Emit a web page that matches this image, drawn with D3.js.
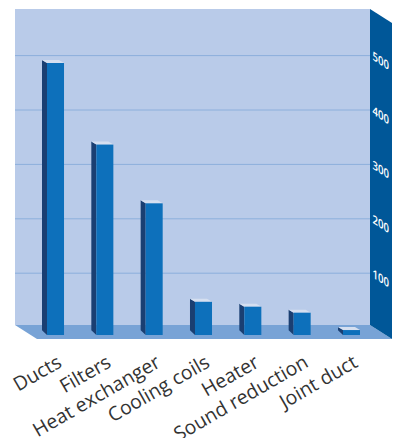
<!DOCTYPE html>
<html>
<head>
<meta charset="utf-8">
<script src="https://cdn.jsdelivr.net/npm/d3@7"></script>
<style>
  html, body { margin: 0; padding: 0; background: #fff; }
  svg { display: block; }
</style>
</head>
<body>
<svg width="401" height="438"></svg>
<script>
let categories = ["Ducts", "Filters", "Heat exchanger", "Cooling coils", "Heater", "Sound reduction", "Joint duct"];
let values = [500, 350, 242, 61, 52, 41, 9];
let tickValues = [100, 200, 300, 400, 500];

let svg = d3.select("svg");

// front plane scales, the back wall sits up and to the left of it
let x = d3.scaleBand().domain(categories).range([47, 360]).paddingInner(0.655).paddingOuter(0);
let y = d3.scaleLinear().domain([0, 500]).range([335, 63]);

let wall = { x0: 15, x1: 370, y0: 9, y1: 325 };
let depth = { dx: 22, dy: 14 };
let gridShift = 7.4;
let barDepth = { dx: 5, dy: 3 };

function poly(points, fill) {
    return svg.append("polygon")
        .attr("points", points.map(function (p) { return p.join(","); }).join(" "))
        .attr("fill", fill);
}

// back wall
svg.append("rect")
    .attr("x", wall.x0).attr("y", wall.y0)
    .attr("width", wall.x1 - wall.x0).attr("height", wall.y1 - wall.y0)
    .attr("fill", "#b9cbe9");

// floor
poly([[wall.x0, wall.y1], [wall.x1, wall.y1], [wall.x1 + depth.dx, wall.y1 + depth.dy], [wall.x0 + depth.dx, wall.y1 + depth.dy]], "#78a3d6");

// right wall
poly([[wall.x1, wall.y0], [wall.x1 + depth.dx, wall.y0 + depth.dy], [wall.x1 + depth.dx, wall.y1 + depth.dy], [wall.x1, wall.y1]], "#005798");

// gridlines
svg.selectAll(".grid")
    .data(tickValues)
    .join("line")
    .attr("class", "grid")
    .attr("x1", wall.x0)
    .attr("x2", wall.x1)
    .attr("y1", function (d) { return y(d) - gridShift; })
    .attr("y2", function (d) { return y(d) - gridShift; })
    .attr("stroke", "#8cafdc")
    .attr("stroke-width", 1);

// tick labels painted on the right wall
svg.selectAll(".tick-label")
    .data(tickValues)
    .join("text")
    .attr("class", "tick-label")
    .attr("transform", function (d) {
        return "matrix(0.8,0.52,0,1," + (wall.x1 + 2.5) + "," + (y(d) - gridShift + 4) + ")";
    })
    .attr("font-family", "'Open Sans', sans-serif")
    .attr("font-size", 12)
    .attr("font-weight", 600)
    .attr("fill", "#ffffff")
    .text(function (d) { return d; });

// bars
let bars = svg.selectAll(".bar")
    .data(categories.map(function (c, i) { return { name: c, value: values[i] }; }))
    .join("g")
    .attr("class", "bar");

bars.append("polygon")
    .attr("fill", "#1a3f72")
    .attr("points", function (d) {
        let l = x(d.name), t = y(d.value), b = y(0);
        return [[l, t], [l - barDepth.dx, t - barDepth.dy], [l - barDepth.dx, b - barDepth.dy * 1.6], [l, b]].join(" ");
    });

bars.append("polygon")
    .attr("fill", "#d5dff0")
    .attr("points", function (d) {
        let l = x(d.name), t = y(d.value), w = x.bandwidth();
        return [[l, t], [l + w, t], [l + w - barDepth.dx, t - barDepth.dy], [l - barDepth.dx, t - barDepth.dy]].join(" ");
    });

bars.append("rect")
    .attr("x", function (d) { return x(d.name); })
    .attr("y", function (d) { return y(d.value); })
    .attr("width", x.bandwidth())
    .attr("height", function (d) { return y(0) - y(d.value); })
    .attr("fill", "#0d70bb");

// category labels, the long ones run off the bottom edge as in the original
svg.selectAll(".cat")
    .data(categories)
    .join("text")
    .attr("class", "cat")
    .attr("transform", function (d) {
        return "translate(" + (x(d) + 16) + ",366) rotate(-30)";
    })
    .attr("text-anchor", "end")
    .attr("font-family", "'Open Sans', sans-serif")
    .attr("font-size", 19.5)
    .attr("fill", "#333333")
    .text(function (d) { return d; });
</script>
</body>
</html>
